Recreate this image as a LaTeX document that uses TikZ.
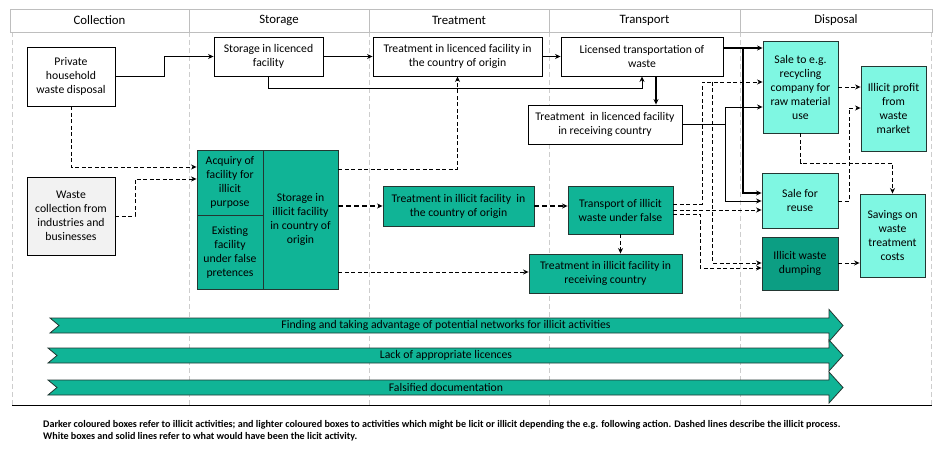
\documentclass[tikz,border=0pt]{standalone}
\usepackage{fontspec}
\setmainfont{Carlito}
\usetikzlibrary{arrows.meta}
\definecolor{dk}{RGB}{16,180,150}
\definecolor{dkd}{RGB}{12,158,131}
\definecolor{lt}{RGB}{127,247,226}
\definecolor{bd}{RGB}{35,55,50}
\definecolor{lg}{RGB}{242,242,242}
\definecolor{gl}{RGB}{205,205,205}
\definecolor{hb}{RGB}{190,190,190}
\begin{document}
\begin{tikzpicture}[x=1pt,y=-1pt,
  boxbase/.style={inner sep=0pt,align=center,font=\fontsize{11.7}{14}\selectfont},
  wbox/.style={boxbase,draw=black,line width=0.9pt,fill=white},
  gbox/.style={boxbase,draw=black,line width=0.9pt,fill=lg},
  dbox/.style={boxbase,draw=bd,line width=0.9pt,fill=dk},
  ddbox/.style={boxbase,draw=bd,line width=0.9pt,fill=dkd},
  lbox/.style={boxbase,draw=bd,line width=0.9pt,fill=lt},
  hdr/.style={draw=hb,line width=0.6pt,fill=white,inner sep=0pt,font=\fontsize{12.8}{14}\selectfont},
  guide/.style={draw=gl,line width=0.6pt,dash pattern=on 5pt off 3pt},
  tip/.style={-{Stealth[length=5.5pt,width=5pt]}},
  lic/.style={tip,line width=0.9pt},
  licb/.style={tip,line width=1.6pt},
  ill/.style={tip,line width=0.9pt,dash pattern=on 4pt off 2.5pt},
  illb/.style={tip,line width=1.6pt,dash pattern=on 5pt off 3pt},
  band/.style={fill=dk,draw=bd,line width=0.8pt},
  bandtxt/.style={inner sep=0pt,font=\fontsize{11.7}{13}\selectfont}
]
\useasboundingbox (0,0) rectangle (950,454);

% guides
\foreach \gx in {12,189,369,549,740,931}{\draw[guide] (\gx,32) -- (\gx,405);}

% header
\node[hdr,minimum width=179pt,minimum height=23pt] (h1) at (99.5,20.5) {Collection};
\node[hdr,minimum width=180pt,minimum height=23pt] (h2) at (279,20.5) {Storage};
\node[hdr,minimum width=180pt,minimum height=23pt] (h3) at (459,20.5) {Treatment};
\node[hdr,minimum width=191pt,minimum height=23pt] (h4) at (644.5,20.5) {Transport};
\node[hdr,minimum width=192pt,minimum height=23pt] (h5) at (836,20.5) {Disposal};

% boxes
\node[wbox,minimum width=88pt,minimum height=59pt] (priv) at (71,76.5) {Private\\household\\waste disposal};
\node[wbox,minimum width=109pt,minimum height=39pt] (stl) at (268.5,56.5) {Storage in licenced\\facility};
\node[wbox,minimum width=169pt,minimum height=39pt] (trl) at (457.5,56.5) {Treatment in licenced facility in\\the country of origin};
\node[wbox,minimum width=162pt,minimum height=39pt] (ltr) at (642,56.5) {Licensed transportation of\\waste};
\node[wbox,minimum width=154pt,minimum height=39pt] (trr) at (605,124.5) {Treatment\ \ in licenced facility\\in receiving country};
\node[lbox,minimum width=75pt,minimum height=92pt] (rec) at (800.5,87) {Sale to e.g.\\recycling\\company for\\raw material\\use};
\node[lbox,minimum width=65pt,minimum height=85pt] (prof) at (893.5,108.5) {Illicit profit\\from\\waste\\market};
\node[lbox,minimum width=76pt,minimum height=55pt] (reuse) at (800,200.5) {Sale for\\reuse};
\node[ddbox,minimum width=76pt,minimum height=53pt] (dump) at (800,263.5) {Illicit waste\\dumping};
\node[lbox,minimum width=65pt,minimum height=83pt] (sav) at (892.5,235.5) {Savings on\\waste\\treatment\\costs};
\node[gbox,minimum width=88pt,minimum height=78pt] (wcol) at (71,216) {Waste\\collection from\\industries and\\businesses};
\node[dbox,minimum width=66pt,minimum height=65pt] (acq) at (230,182.5) {Acquiry of\\facility for\\illicit\\purpose};
\node[dbox,minimum width=66pt,minimum height=74pt] (exi) at (230,252) {Existing\\facility\\under false\\pretences};
\node[dbox,minimum width=75pt,minimum height=139pt] (sti) at (300.5,219.5) {Storage in\\illicit facility\\in country of\\origin};
\node[dbox,minimum width=151pt,minimum height=40pt] (tio) at (458.5,206) {Treatment in illicit facility\ \ in\\the country of origin};
\node[dbox,minimum width=105pt,minimum height=48pt] (tpi) at (620.5,210) {Transport of illicit\\waste under false};
\node[dbox,minimum width=153pt,minimum height=39pt] (tir) at (605.5,273.5) {Treatment in illicit facility in\\receiving country};

% licit connectors
\draw[lic] (priv.east) -- ++(49,0) |- (stl.west);
\draw[licb] (stl.east) -- (trl.west);
\draw[licb] (trl.east) -- (ltr.west);
\draw[lic] (stl.south) -- ++(0,12) -| (ltr.south);
\draw[licb] ([xshift=14pt]ltr.south) -- ([xshift=14pt]ltr.south |- trr.north);
\draw[licb] ([yshift=8.5pt]ltr.east) -- ([yshift=8.5pt]ltr.east -| rec.west);
\draw[lic,line width=1.2pt] (743,48) |- ([yshift=7.5pt]reuse.west);
\draw[lic] (trr.east) -- (725,124.5) |- ([yshift=-20pt]rec.west);
\draw[lic] (725,124.5) |- ([yshift=-0.5pt]reuse.west);

% illicit connectors
\draw[ill] (priv.south) |- ([yshift=15.5pt]acq.west);
\draw[ill] (wcol.east) -- (135,216) |- ([yshift=3.5pt]acq.west);
\draw[ill] ([yshift=50.5pt]sti.east) -| (trl.south);
\draw[illb] ([yshift=13.5pt]sti.east) -- (tio.west);
\draw[ill] ([yshift=-52.5pt]sti.east) -- ([yshift=1.5pt]tir.west);
\draw[illb] (tio.east) -- ([yshift=4pt]tpi.west);
\draw[ill] (tpi.south) -- (tpi.south |- tir.north);
\draw[ill] ([yshift=6pt]tpi.east) -- (702,204) |- ([yshift=5pt]rec.west);
\draw[ill] (tpi.east) -- ([yshift=-9.5pt]reuse.west);
\draw[ill] ([yshift=-4pt]tpi.east) -- (700,214) |- ([yshift=-4.5pt]dump.west);
\draw[ill] (712,82) |- ([yshift=0.5pt]dump.west);
\draw[ill] (rec.east) -- ([yshift=21.5pt]prof.west);
\draw[ill] (rec.south) -- (800.5,163) -| (sav.north);
\draw[ill] ([yshift=-0.5pt]reuse.east) -- (849,201) |- ([yshift=0.5pt]prof.west);
\draw[ill] ([yshift=0.5pt]dump.east) -- ([yshift=-27.5pt]sav.west);

% bands
\path[band] (50,318) -- (829,318) -- (829,309.5) -- (843,325.5) -- (829,341.5) -- (829,333) -- (50,333) -- (59,325.5) -- cycle;
\node[bandtxt] (b1) at (446,325.5) {Finding and taking advantage of potential networks for illicit activities};
\path[band] (48,348) -- (829,348) -- (829,340) -- (843,355.5) -- (829,371) -- (829,363) -- (48,363) -- (57,355.5) -- cycle;
\node[bandtxt] (b2) at (446,355.5) {Lack of appropriate licences};
\path[band] (48,380) -- (829,380) -- (829,372) -- (843,387.5) -- (829,403) -- (829,395) -- (48,395) -- (57,387.5) -- cycle;
\node[bandtxt] (b3) at (446,387.5) {Falsified documentation};

% bottom rule and note
\draw[line width=0.8pt] (12,405) -- (932,405);
\node[anchor=west,inner sep=0pt,font=\bfseries\fontsize{10.1}{11}\selectfont] (n1) at (43,425) {Darker coloured boxes refer to illicit activities; and lighter coloured boxes to activities which might be licit or illicit depending the e.g. following action. Dashed lines describe the illicit process.};
\node[anchor=west,inner sep=0pt,font=\bfseries\fontsize{10.1}{11}\selectfont] (n2) at (43,437) {White boxes and solid lines refer to what would have been the licit activity.};
\end{tikzpicture}
\end{document}
